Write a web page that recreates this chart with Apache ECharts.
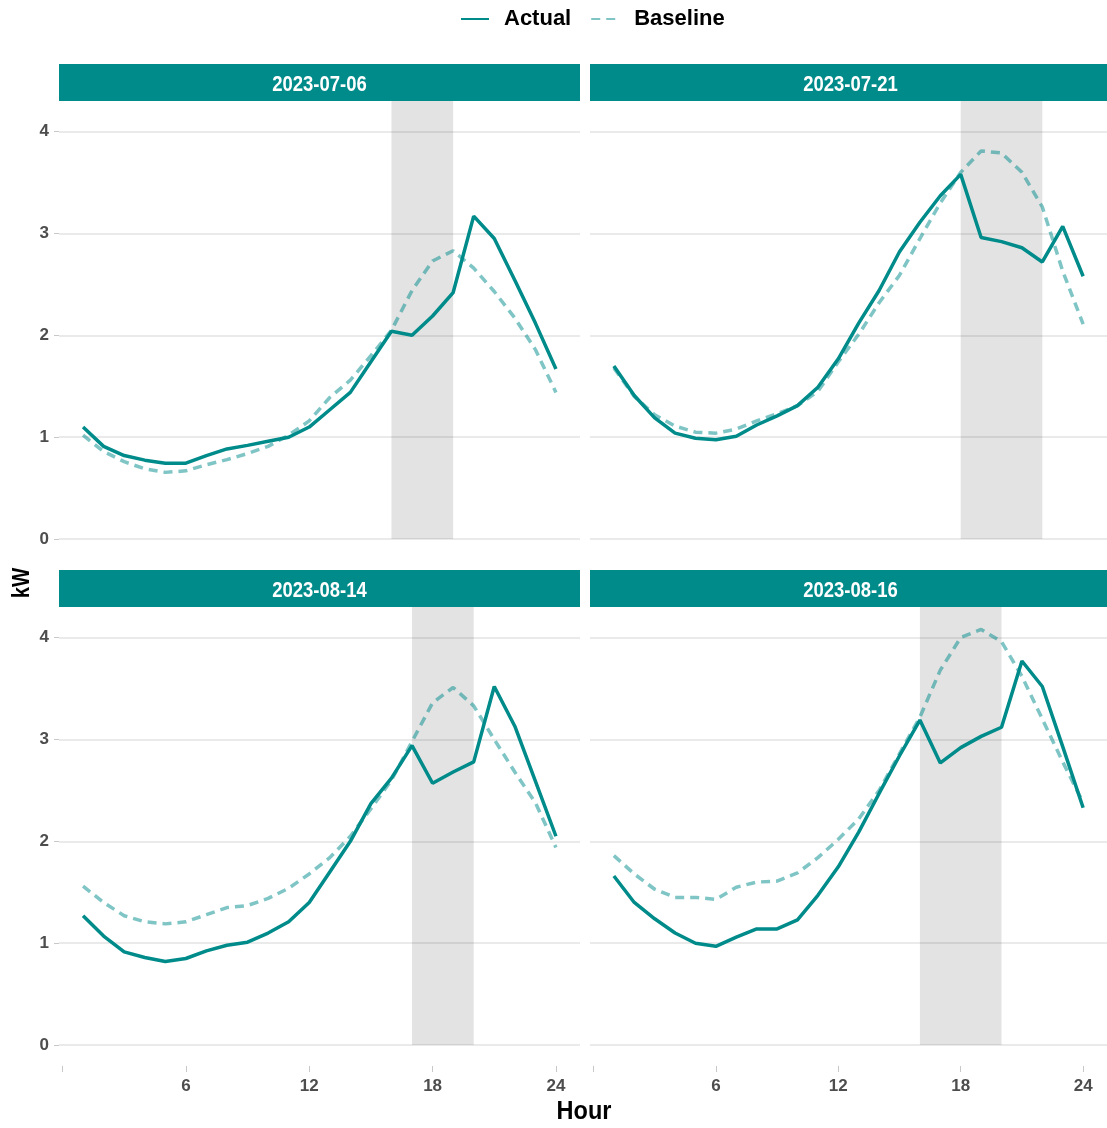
<!DOCTYPE html>
<html>
<head>
<meta charset="utf-8">
<title>Hourly load vs baseline</title>
<script src="https://cdn.jsdelivr.net/npm/echarts@6/dist/echarts.min.js"></script>
<style>
  html, body { margin: 0; padding: 0; background: #ffffff; }
  #chart { width: 1107px; height: 1128px; }
</style>
</head>
<body>
<div id="chart"></div>
<script>
// ---- data -------------------------------------------------------------
const HOURS = [1, 2, 3, 4, 5, 6, 7, 8, 9, 10, 11, 12, 13, 14, 15, 16, 17, 18, 19, 20, 21, 22, 23, 24];
const DATES = ['2023-07-06', '2023-07-21', '2023-08-14', '2023-08-16'];

const ACTUAL_0706 = [1.10, 0.91, 0.82, 0.775, 0.745, 0.745, 0.82, 0.885, 0.92, 0.96, 1.00, 1.10, 1.27, 1.44, 1.74, 2.04, 2.00, 2.19, 2.42, 3.17, 2.95, 2.54, 2.12, 1.67];
const BASELINE_0706 = [1.02, 0.86, 0.76, 0.69, 0.655, 0.67, 0.73, 0.78, 0.84, 0.91, 1.02, 1.16, 1.39, 1.56, 1.80, 2.05, 2.44, 2.73, 2.83, 2.66, 2.43, 2.17, 1.86, 1.44];

const ACTUAL_0721 = [1.70, 1.41, 1.19, 1.04, 0.99, 0.975, 1.01, 1.12, 1.21, 1.31, 1.49, 1.77, 2.12, 2.44, 2.82, 3.11, 3.37, 3.58, 2.96, 2.92, 2.86, 2.72, 3.07, 2.58];
const BASELINE_0721 = [1.68, 1.40, 1.22, 1.11, 1.05, 1.04, 1.08, 1.16, 1.23, 1.31, 1.45, 1.74, 2.01, 2.32, 2.59, 2.95, 3.30, 3.60, 3.81, 3.79, 3.60, 3.26, 2.63, 2.11];

const ACTUAL_0814 = [1.27, 1.07, 0.915, 0.86, 0.82, 0.85, 0.925, 0.98, 1.01, 1.10, 1.21, 1.40, 1.70, 2.00, 2.37, 2.62, 2.94, 2.57, 2.68, 2.78, 3.52, 3.13, 2.59, 2.05];
const BASELINE_0814 = [1.56, 1.40, 1.27, 1.21, 1.19, 1.21, 1.28, 1.35, 1.37, 1.44, 1.54, 1.68, 1.84, 2.05, 2.32, 2.60, 2.98, 3.36, 3.51, 3.33, 3.00, 2.68, 2.38, 1.94];

const ACTUAL_0816 = [1.66, 1.40, 1.24, 1.10, 1.00, 0.97, 1.06, 1.14, 1.14, 1.23, 1.47, 1.75, 2.09, 2.47, 2.84, 3.19, 2.77, 2.92, 3.03, 3.12, 3.77, 3.52, 2.93, 2.33];
const BASELINE_0816 = [1.86, 1.68, 1.53, 1.45, 1.45, 1.43, 1.55, 1.60, 1.61, 1.69, 1.84, 2.02, 2.22, 2.50, 2.86, 3.22, 3.68, 4.00, 4.08, 3.96, 3.62, 3.20, 2.78, 2.38];

// event window (start hour, end hour) for each day
const EVENT_WINDOWS = [[16, 19], [18, 22], [17, 20], [16, 20]];

const Y_TICKS = [0, 1, 2, 3, 4];
const X_TICKS = [0, 6, 12, 18, 24];
const X_TICK_LABELS = ['', '6', '12', '18', '24'];

// ---- layout & style ---------------------------------------------------
const ACTUAL = [ACTUAL_0706, ACTUAL_0721, ACTUAL_0814, ACTUAL_0816];
const BASELINE = [BASELINE_0706, BASELINE_0721, BASELINE_0814, BASELINE_0816];

const FONT = '"Liberation Sans", Arial, Helvetica, sans-serif';
const TEAL = '#008B8B';
const Y_MIN = -0.205, Y_MAX = 4.3;
const X_MIN = -0.17, X_MAX = 25.17;
const PANEL_W = 521, PANEL_H = 459, STRIP_H = 37;
const PANEL_LEFT = [59, 590];
const PANEL_TOP = [101, 607];

const grids = [], xAxes = [], yAxes = [], series = [], graphics = [];

DATES.forEach((date, i) => {
  const col = i % 2, row = Math.floor(i / 2);
  const left = PANEL_LEFT[col], top = PANEL_TOP[row];

  grids.push({ left: left, top: top, width: PANEL_W, height: PANEL_H, containLabel: false });

  xAxes.push({
    type: 'value', gridIndex: i, min: X_MIN, max: X_MAX,
    axisLine: { show: false, onZero: false },
    splitLine: { show: false },
    axisTick: {
      show: row === 1, customValues: X_TICKS, length: 6,
      lineStyle: { color: '#c8c8c8', width: 1 }
    },
    axisLabel: {
      show: row === 1, customValues: X_TICKS, margin: 12,
      formatter: v => X_TICK_LABELS[X_TICKS.indexOf(v)] || '',
      color: '#4d4d4d', fontSize: 17, fontWeight: 'bold', fontFamily: FONT
    }
  });

  yAxes.push({
    type: 'value', gridIndex: i, min: Y_MIN, max: Y_MAX,
    axisLine: { show: false, onZero: false },
    axisTick: {
      show: col === 0, customValues: Y_TICKS, length: 5,
      lineStyle: { color: '#c8c8c8', width: 1 }
    },
    axisLabel: {
      show: col === 0, customValues: Y_TICKS, margin: 10,
      color: '#4d4d4d', fontSize: 17, fontWeight: 'bold', fontFamily: FONT
    },
    splitLine: { show: true, lineStyle: { color: '#e3e3e3', width: 1.5 } }
  });

  const win = EVENT_WINDOWS[i];

  series.push({
    name: 'Actual', type: 'line', xAxisIndex: i, yAxisIndex: i,
    data: HOURS.map((h, k) => [h, ACTUAL[i][k]]),
    symbol: 'none', z: 4,
    lineStyle: { color: TEAL, width: 3.5 },
    itemStyle: { color: TEAL },
    markArea: {
      silent: true,
      itemStyle: { color: 'rgba(0,0,0,0.11)' },
      data: [[{ xAxis: win[0], yAxis: 0 }, { xAxis: win[1], yAxis: Y_MAX }]]
    }
  });

  series.push({
    name: 'Baseline', type: 'line', xAxisIndex: i, yAxisIndex: i,
    data: HOURS.map((h, k) => [h, BASELINE[i][k]]),
    symbol: 'none', z: 3,
    lineStyle: { color: TEAL, width: 3.5, opacity: 0.5, type: [9, 6] },
    itemStyle: { color: TEAL, opacity: 0.5 }
  });

  // facet strip (narrow lettering)
  graphics.push({
    type: 'rect', silent: true,
    shape: { x: left, y: top - STRIP_H, width: PANEL_W, height: STRIP_H },
    style: { fill: TEAL }
  });
  graphics.push({
    type: 'text', silent: true,
    x: left + PANEL_W / 2, y: top - STRIP_H / 2 + 2,
    scaleX: 0.84,
    style: {
      text: date, fill: '#ffffff', align: 'center', verticalAlign: 'middle',
      font: 'bold 22px ' + FONT
    }
  });
});

// axis titles
graphics.push({
  type: 'text', silent: true, x: 584, y: 1112, scaleX: 0.94,
  style: { text: 'Hour', fill: '#000', align: 'center', verticalAlign: 'middle', font: 'bold 25px ' + FONT }
});
graphics.push({
  type: 'text', silent: true, x: 22, y: 583, rotation: Math.PI / 2, scaleX: 0.85,
  style: { text: 'kW', fill: '#000', align: 'center', verticalAlign: 'middle', font: 'bold 24px ' + FONT }
});

const option = {
  animation: false,
  backgroundColor: '#ffffff',
  legend: {
    data: ['Actual', 'Baseline'],
    top: 3, left: 455,
    itemWidth: 28, itemHeight: 14, itemGap: 19,
    itemStyle: { opacity: 0 },
    textStyle: { fontSize: 22, fontWeight: 'bold', color: '#000', fontFamily: FONT, padding: [0, 0, 0, 10] }
  },
  grid: grids,
  xAxis: xAxes,
  yAxis: yAxes,
  series: series,
  graphic: graphics
};

const chart = echarts.init(document.getElementById('chart'), null, { renderer: 'canvas' });
chart.setOption(option);
</script>
</body>
</html>
